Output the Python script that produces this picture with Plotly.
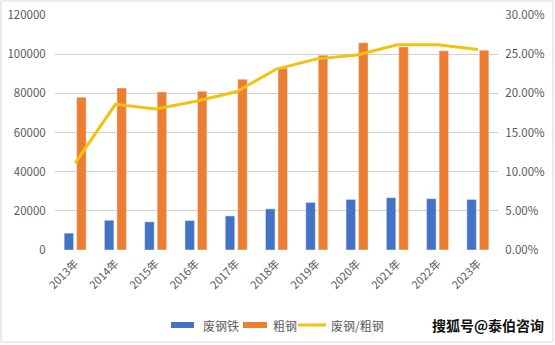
import plotly.graph_objects as go

years = ["2013年", "2014年", "2015年", "2016年", "2017年", "2018年",
         "2019年", "2020年", "2021年", "2022年", "2023年"]
scrap = [8600, 15200, 14400, 15000, 17400, 21000, 24300, 25800, 26700, 26200, 25800]
crude = [78000, 82700, 80700, 81000, 87200, 92800, 99500, 105800, 103700, 101700, 102000]
ratio = [0.111, 0.186, 0.180, 0.190, 0.202, 0.231, 0.244, 0.249, 0.262, 0.262, 0.256]

left_ticks = [0, 20000, 40000, 60000, 80000, 100000, 120000]
right_ticks = [0, 0.05, 0.10, 0.15, 0.20, 0.25, 0.30]

font_family = "Noto Sans CJK SC, Microsoft YaHei, sans-serif"
gray = "#595959"
grid = "#D0D0D0"

# plot area in pixels (for paper-coordinate conversions of legend/border)
L, R, T, B = 55, 498, 15, 250
W, H = R - L, B - T
def px(x):
    return (x - L) / W
def py(y):
    return (B - y) / H

fig = go.Figure()
fig.add_trace(go.Bar(x=years, y=scrap, name="废钢铁", marker_color="#4472C4", yaxis="y"))
fig.add_trace(go.Bar(x=years, y=crude, name="粗钢", marker_color="#ED7D31", yaxis="y"))
fig.add_trace(go.Scatter(x=years, y=ratio, name="废钢/粗钢", mode="lines",
                         line=dict(color="#F2C20F", width=3), yaxis="y2"))

legend_y = 325
shapes = [
    dict(type="rect", xref="paper", yref="paper", x0=px(1), x1=px(553),
         y0=py(342), y1=py(1), line=dict(color="#D9D9D9", width=1)),
    dict(type="rect", xref="paper", yref="paper", x0=px(171), x1=px(194),
         y0=py(legend_y + 3), y1=py(legend_y - 3), fillcolor="#4472C4", line=dict(width=0)),
    dict(type="rect", xref="paper", yref="paper", x0=px(243), x1=px(267),
         y0=py(legend_y + 3), y1=py(legend_y - 3), fillcolor="#ED7D31", line=dict(width=0)),
    dict(type="line", xref="paper", yref="paper", x0=px(298), x1=px(326),
         y0=py(legend_y), y1=py(legend_y), line=dict(color="#F2C20F", width=3)),
]

legend_font = dict(size=12, color=gray)
annotations = [
    dict(text="废钢铁", xref="paper", yref="paper", x=px(201), y=py(legend_y),
         xanchor="left", yanchor="middle", showarrow=False, font=legend_font),
    dict(text="粗钢", xref="paper", yref="paper", x=px(271), y=py(legend_y),
         xanchor="left", yanchor="middle", showarrow=False, font=legend_font),
    dict(text="废钢/粗钢", xref="paper", yref="paper", x=px(329), y=py(legend_y),
         xanchor="left", yanchor="middle", showarrow=False, font=legend_font),
    dict(text="<b>搜狐号@泰伯咨询</b>", xref="paper", yref="paper",
         x=px(546), y=py(legend_y), xanchor="right", yanchor="middle",
         showarrow=False, font=dict(size=14, color="#111111")),
]

fig.update_layout(
    width=555, height=345,
    margin=dict(l=L, r=555 - R, t=T, b=345 - B),
    paper_bgcolor="white", plot_bgcolor="white",
    font=dict(family=font_family, size=11, color=gray),
    barmode="group", bargap=0.38, bargroupgap=0.24,
    showlegend=False,
    xaxis=dict(tickangle=-45, showgrid=False, showline=False,
               ticks="outside", ticklen=2, tickcolor="white",
               automargin=False, tickfont=dict(size=11, color=gray)),
    yaxis=dict(range=[0, 120000], tickmode="array", tickvals=left_ticks,
               ticktext=[str(v) for v in left_ticks],
               showgrid=True, gridcolor=grid, gridwidth=1, zeroline=False,
               showline=False, ticks="outside", ticklen=6, tickcolor="white",
               automargin=False,
               tickfont=dict(size=11.5, color=gray)),
    yaxis2=dict(range=[0, 0.30], tickmode="array", tickvals=right_ticks,
                ticktext=[f"{v*100:.2f}%" for v in right_ticks],
                overlaying="y", side="right", showgrid=False, zeroline=False,
                ticks="outside", ticklen=4, tickcolor="white", automargin=False,
                tickfont=dict(size=11.5, color=gray)),
    shapes=shapes,
    annotations=annotations,
)

fig.write_html("out.html")
